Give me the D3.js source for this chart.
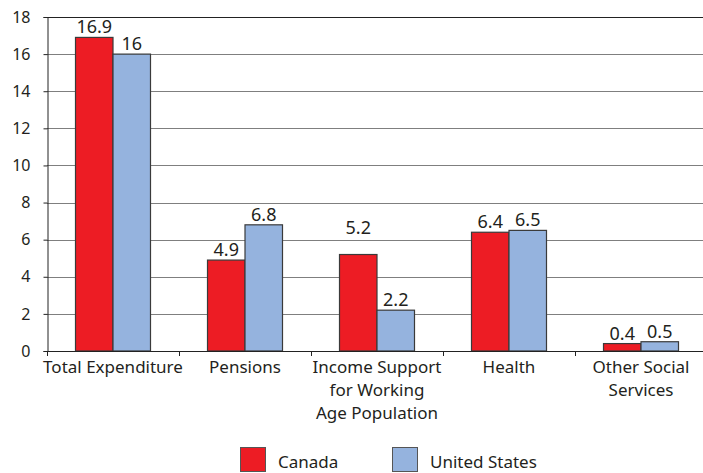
<!DOCTYPE html>
<html><head><meta charset="utf-8">
<script src="https://cdn.jsdelivr.net/npm/d3@7"></script>
<style>body{margin:0;background:#fff}svg{display:block}text{font-family:"Noto Sans",sans-serif;fill:#231f20}</style>
</head><body><svg id="c" width="703" height="473"></svg>
<script>
const categories = [["Total Expenditure"],["Pensions"],["Income Support","for Working","Age Population"],["Health"],["Other Social","Services"]];
const seriesNames = ["Canada","United States"];
const canada = [16.9, 4.9, 5.2, 6.4, 0.4];
const unitedStates = [16, 6.8, 2.2, 6.5, 0.5];
const yTicks = [0,2,4,6,8,10,12,14,16,18];
const colors = ["#ED1C24","#95B3DE"];

const svg = d3.select("#c");
const L=47, R=707, T=17, B=351;
const x = d3.scaleBand().domain(d3.range(categories.length)).range([L,R]).paddingInner(0).paddingOuter(0);
const y = d3.scaleLinear().domain([0,18]).range([B,T]);
const xs = d3.scaleBand().domain([0,1]).range([0, x.bandwidth()]).paddingInner(0).paddingOuter(0.76);

// grid
svg.append("g").selectAll("line").data(yTicks.filter(d=>d>0)).join("line")
  .attr("x1",L).attr("x2",703).attr("y1",d=>Math.round(y(d))+0.5).attr("y2",d=>Math.round(y(d))+0.5)
  .attr("stroke",d=>d===18?"#222":"#7f7f7f").attr("stroke-width",1);

// y axis
const ya = svg.append("g").attr("transform",`translate(${L+0.5},0)`)
  .call(d3.axisLeft(y).tickValues(yTicks).tickSize(4).tickPadding(13).tickFormat(d3.format("d")));
ya.select(".domain").attr("stroke","#222");
ya.selectAll(".tick line").attr("stroke","#222");
ya.selectAll(".tick text").attr("font-size",16).attr("font-family","Noto Sans").attr("fill","#231f20");

// bars
const data = [canada, unitedStates];
const labelLift = {2:[17,0]};
data.forEach((vals,si)=>{
  const g = svg.append("g");
  g.selectAll("rect").data(vals).join("rect")
    .attr("x",(d,i)=>x(i)+xs(si)).attr("width",xs.bandwidth())
    .attr("y",d=>y(d)).attr("height",d=>B-y(d))
    .attr("fill",colors[si]).attr("stroke","#3a3a3a").attr("stroke-width",1.2);
  g.selectAll("text").data(vals).join("text")
    .attr("x",(d,i)=>x(i)+xs(si)+xs.bandwidth()/2)
    .attr("y",(d,i)=>y(d)-4-((labelLift[i]||[0,0])[si]))
    .attr("text-anchor","middle").attr("font-size",18).text(d=>d);
});

// x axis
svg.append("line").attr("x1",L).attr("x2",703).attr("y1",B+0.5).attr("y2",B+0.5).attr("stroke","#222");
svg.append("g").selectAll("line").data(d3.range(categories.length+1)).join("line")
  .attr("x1",i=>Math.round(L+i*x.step())+0.5).attr("x2",i=>Math.round(L+i*x.step())+0.5)
  .attr("y1",B).attr("y2",B+5).attr("stroke","#222");
const xl = svg.append("g").selectAll("text").data(categories).join("text")
  .attr("x",(d,i)=>x(i)+x.bandwidth()/2).attr("y",373).attr("text-anchor","middle").attr("font-size",17);
xl.each(function(lines){
  const t=d3.select(this);
  lines.forEach((s,k)=>t.append("tspan").attr("x",t.attr("x")).attr("dy",k?23:0).text(s));
});

// legend
const lg = [{x:240},{x:392}];
seriesNames.forEach((n,i)=>{
  svg.append("rect").attr("x",lg[i].x+0.5).attr("y",447.5).attr("width",25).attr("height",24)
    .attr("fill",colors[i]).attr("stroke","#555").attr("stroke-width",1);
  svg.append("text").attr("x",lg[i].x+38).attr("y",468).attr("font-size",17).text(n);
});
</script></body></html>
